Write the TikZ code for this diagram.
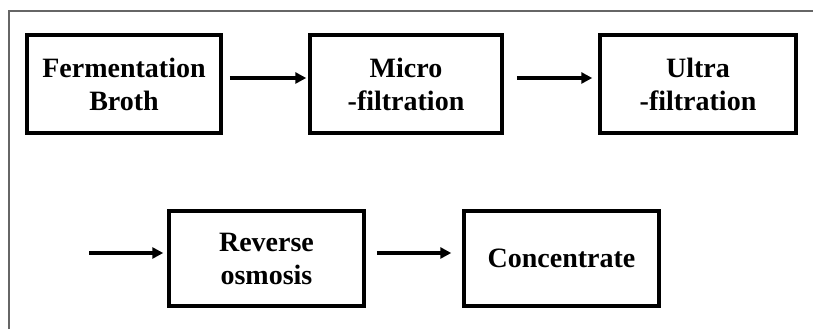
\documentclass[tikz,border=0pt]{standalone}
\usepackage{fontspec}
\setmainfont{Liberation Serif}
\usetikzlibrary{arrows.meta}
\begin{document}
\begin{tikzpicture}[x=1pt,y=1pt,
  stagebox/.style={draw=black, line width=3.5pt, minimum height=98pt,
    align=center, inner sep=0pt, font=\fontsize{28}{33}\selectfont\bfseries},
  flow/.style={line width=3.2pt, -{Triangle[length=11pt,width=11pt]}},
  frameline/.style={draw=black!60, line width=1.5pt}]
\useasboundingbox (0,0) rectangle (813,329);
\coordinate (ftl) at (9,318);
\coordinate (fbl) at (9,0);
\coordinate (ftr) at (813,318);
\draw[frameline] (fbl) -- (ftl) -- (ftr);
\node[stagebox, minimum width=194pt] (b1) at (124,245) {Fermentation\\Broth};
\node[stagebox, minimum width=192pt] (b2) at (406,245) {Micro\\-filtration};
\node[stagebox, minimum width=196pt] (b3) at (698,245) {Ultra\\-filtration};
\node[stagebox, minimum width=195pt, minimum height=95pt] (b4) at (266.5,70.5) {Reverse\\osmosis};
\node[stagebox, minimum width=195pt, minimum height=95pt] (b5) at (561.5,70.5) {Concentrate};
\coordinate (in4) at (89,76);
\draw[flow] ([shift={(7,6)}]b1.east) -- ([shift={(-2,6)}]b2.west);
\draw[flow] ([shift={(13,6)}]b2.east) -- ([shift={(-6,6)}]b3.west);
\draw[flow] (in4) -- ([shift={(-4,5.5)}]b4.west);
\draw[flow] ([shift={(11,5.5)}]b4.east) -- ([shift={(-11,5.5)}]b5.west);
\end{tikzpicture}
\end{document}
